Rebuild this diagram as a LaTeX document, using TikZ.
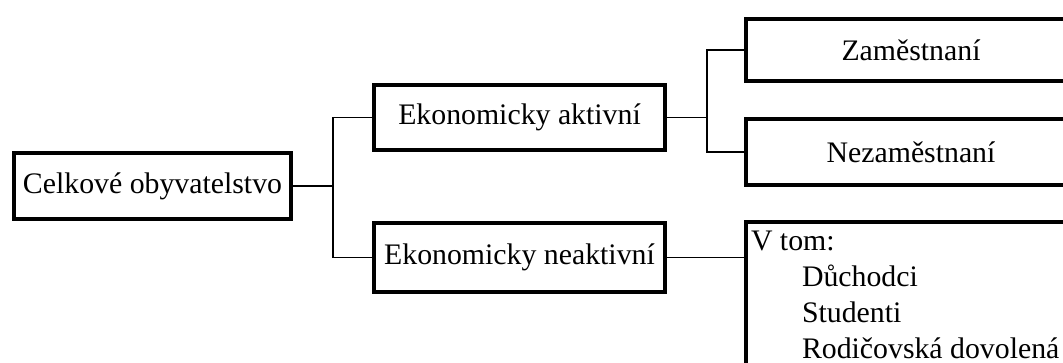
\documentclass[tikz,border=0pt]{standalone}
\usepackage{fontspec}
\setmainfont{Liberation Serif}
\begin{document}
\begin{tikzpicture}[x=1pt,y=-1pt,
  box/.style={draw, line width=4.5pt, inner sep=0pt, outer sep=0pt, font=\fontsize{29.8}{36}\selectfont},
  conn/.style={draw, line width=1.8pt},
  txt/.style={inner sep=0pt, outer sep=0pt, font=\fontsize{29.8}{36}\selectfont}]
\clip (0,0) rectangle (1063,362);
\fill[white] (0,0) rectangle (1063,362);
\node[box, minimum width=277pt, minimum height=66pt] (total) at (152.5,186) {Celkové obyvatelstvo};
\node[box, minimum width=291pt, minimum height=65pt] (akt) at (519.5,117.5) {Ekonomicky aktivní};
\node[box, minimum width=291pt, minimum height=69pt] (neakt) at (519.5,257.5) {Ekonomicky neaktivní};
\node[box, minimum width=330pt, minimum height=62pt] (zam) at (911,50) {Zaměstnaní};
\node[box, minimum width=330pt, minimum height=66pt] (nezam) at (911,152) {Nezaměstnaní};
\node[box, anchor=north west, minimum width=340pt, minimum height=180pt] (vtom) at (746,222) {};
\node[txt, anchor=north west, align=left] (vtomtext) at (751,230.5) {V tom:\\\hspace{51pt}Důchodci\\\hspace{51pt}Studenti\\\hspace{51pt}Rodičovská dovolená};
\coordinate (j1) at (333,186);
\coordinate (j2) at (707,117.5);
\draw[conn] (total.east) -- (j1) |- (akt.west);
\draw[conn] (j1) |- (neakt.west);
\draw[conn] (akt.east) -- (j2) |- (zam.west);
\draw[conn] (j2) |- (nezam.west);
\draw[conn] (neakt.east) -- (neakt.east -| vtom.west);
\end{tikzpicture}
\end{document}
